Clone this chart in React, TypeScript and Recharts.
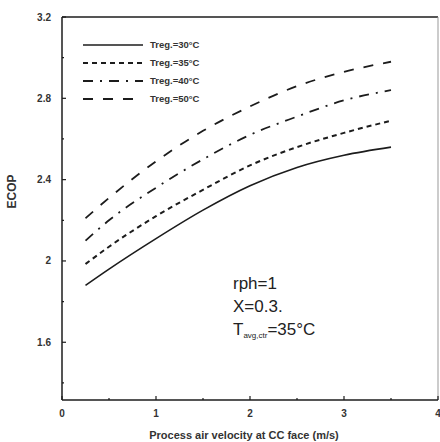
import { LineChart, Line, XAxis, YAxis, ReferenceLine } from "recharts";

// process air velocity at the CC face (m/s)
const velocity = [0.25, 0.5, 1, 1.5, 2, 2.5, 3, 3.5];
// ECOP for each regeneration temperature
const ecop30 = [1.88, 1.96, 2.11, 2.25, 2.37, 2.46, 2.52, 2.56];
const ecop35 = [1.985, 2.07, 2.22, 2.35, 2.47, 2.56, 2.63, 2.69];
const ecop40 = [2.1, 2.2, 2.36, 2.5, 2.62, 2.71, 2.79, 2.84];
const ecop50 = [2.21, 2.31, 2.49, 2.64, 2.76, 2.86, 2.93, 2.98];

const seriesNames = ["Treg.=30°C", "Treg.=35°C", "Treg.=40°C", "Treg.=50°C"];
const xTicks = [0, 0.5, 1, 1.5, 2, 2.5, 3, 3.5, 4];
const xMajor = [0, 1, 2, 3, 4];
const yTicks = [1.4, 1.6, 1.8, 2, 2.2, 2.4, 2.6, 2.8, 3, 3.2];
const yMajor = [1.6, 2, 2.4, 2.8, 3.2];

const data = velocity.map((v, i) => ({ v, a: ecop30[i], b: ecop35[i], c: ecop40[i], d: ecop50[i] }));

const INK = "#1c1c1c";
const FONT = "'Liberation Sans', Arial, sans-serif";
const dashes = ["", "5 4", "10 7 2 7", "10 10"];
const widths = [1.6, 2, 1.8, 1.8];

function XTick(props: { x?: number; y?: number; payload?: { value: number } }) {
  const { x = 0, y = 0, payload } = props;
  const v = payload ? payload.value : 0;
  const major = xMajor.includes(v);
  return (
    <g>
      <line x1={x} x2={x} y1={y} y2={y - (major ? 4 : 2)} stroke={INK} strokeWidth={1.2} />
      {major && (
        <text x={x} y={y + 17} textAnchor="middle" fontSize={10} fontWeight={700} fill="#333" fontFamily={FONT}>
          {v}
        </text>
      )}
    </g>
  );
}

function YTick(props: { x?: number; y?: number; payload?: { value: number } }) {
  const { x = 0, y = 0, payload } = props;
  const v = payload ? payload.value : 0;
  const major = yMajor.includes(v);
  return (
    <g>
      <line x1={x} x2={x + (major ? 4 : 2)} y1={y} y2={y} stroke={INK} strokeWidth={1.2} />
      {major && (
        <text x={x - 11} y={y} dy="0.35em" textAnchor="end" fontSize={10} fontWeight={700} fill="#333" fontFamily={FONT}>
          {v}
        </text>
      )}
    </g>
  );
}

export default function App() {
  return (
    <div style={{ position: "absolute", left: 0, top: 0, width: 440, height: 442, background: "#fff" }}>
      <LineChart width={440} height={442} data={data} margin={{ top: 17, right: 2, bottom: 0, left: 0 }}>
        <XAxis
          dataKey="v"
          type="number"
          domain={[0, 4]}
          ticks={xTicks}
          interval={0}
          height={42}
          tickSize={0}
          tickMargin={0}
          tickLine={false}
          tick={<XTick />}
          stroke={INK}
          strokeWidth={1.5}
          label={{ value: "Process air velocity at CC face (m/s)", position: "insideBottom", offset: 3, dx: -6, fontSize: 11, fontWeight: 700, fill: "#333", fontFamily: FONT }}
        />
        <YAxis
          type="number"
          domain={[1.316, 3.2]}
          ticks={yTicks}
          interval={0}
          width={62}
          tickSize={0}
          tickMargin={0}
          tickLine={false}
          tick={<YTick />}
          stroke={INK}
          strokeWidth={1.5}
          allowDataOverflow
          label={{ value: "ECOP", angle: -90, position: "insideLeft", offset: 12, fontSize: 12, fontWeight: 700, fill: "#333", fontFamily: FONT }}
        />
        <ReferenceLine y={3.2} stroke={INK} strokeWidth={1.5} />
        <ReferenceLine x={4} stroke="#999" strokeWidth={1} />
        <Line isAnimationActive={false} type="monotone" dataKey="a" name={seriesNames[0]} stroke={INK} strokeWidth={widths[0]} dot={false} />
        <Line isAnimationActive={false} type="monotone" dataKey="b" name={seriesNames[1]} stroke={INK} strokeWidth={widths[1]} strokeDasharray={dashes[1]} dot={false} />
        <Line isAnimationActive={false} type="monotone" dataKey="c" name={seriesNames[2]} stroke={INK} strokeWidth={widths[2]} strokeDasharray={dashes[2]} dot={false} />
        <Line isAnimationActive={false} type="monotone" dataKey="d" name={seriesNames[3]} stroke={INK} strokeWidth={widths[3]} strokeDasharray={dashes[3]} dot={false} />
      </LineChart>
      <svg width={440} height={442} style={{ position: "absolute", left: 0, top: 0, pointerEvents: "none" }}>
        {/* legend */}
        <g transform="translate(80, 37)">
          {seriesNames.map((name, i) => (
            <g key={name}>
              <line x1={3} x2={63} y1={8 + i * 18} y2={8 + i * 18} stroke={INK} strokeWidth={widths[i]} strokeDasharray={dashes[i]} />
              <text x={70} y={8 + i * 18} dy="0.35em" fontSize={9.5} fontWeight={700} fill="#333" fontFamily={FONT}>
                {name}
              </text>
            </g>
          ))}
        </g>
        <g fontFamily={FONT} fill="#222" fontSize={17}>
          <text x={233} y={289}>rph=1</text>
          <text x={233} y={312}>X=0.3.</text>
          <text x={233} y={335}>
            T<tspan fontSize={8} dy={3}>avg,ctr</tspan>
            <tspan dy={-3}>=35°C</tspan>
          </text>
        </g>
      </svg>
    </div>
  );
}
